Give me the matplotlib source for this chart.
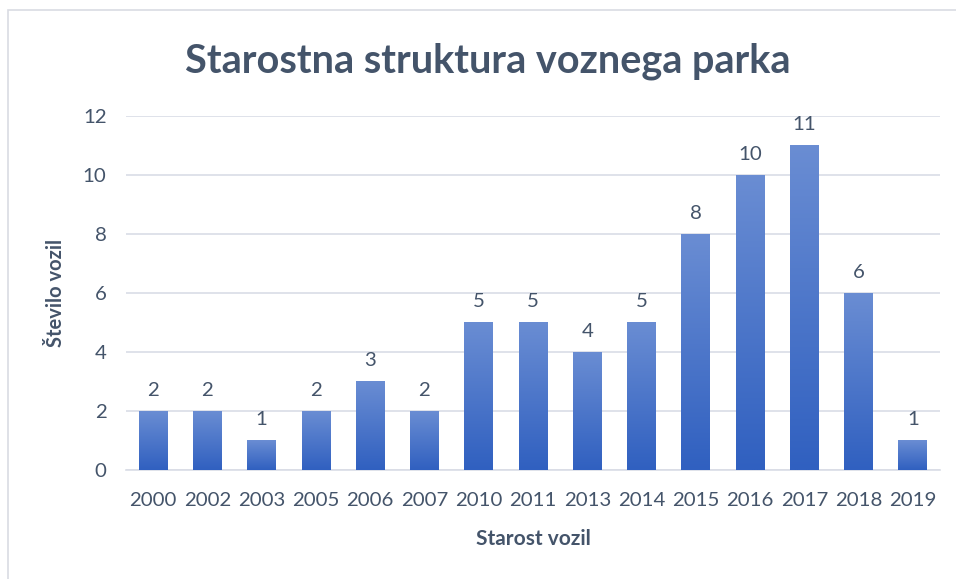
import matplotlib
matplotlib.use("Agg")
import matplotlib.pyplot as plt
import numpy as np
from matplotlib.colors import LinearSegmentedColormap
from matplotlib.patches import Rectangle

years = ["2000", "2002", "2003", "2005", "2006", "2007", "2010", "2011",
         "2013", "2014", "2015", "2016", "2017", "2018", "2019"]
counts = [2, 2, 1, 2, 3, 2, 5, 5, 4, 5, 8, 10, 11, 6, 1]
yticks = [0, 2, 4, 6, 8, 10, 12]

title = "Starostna struktura voznega parka"
xlabel = "Starost vozil"
ylabel = "Število vozil"

plt.rcParams['font.family'] = ['Lato', 'DejaVu Sans']
txt = "#44546a"
grid_c = "#d9dde6"

fig = plt.figure(figsize=(9.56, 5.79), dpi=100)
fig.patches.append(Rectangle((8/956, -0.1), 1.2, 1 - 10/579 + 0.1, transform=fig.transFigure,
                             fill=False, edgecolor="#d9dce3", linewidth=1.2))
ax = fig.add_axes([126/956, 1 - 470/579, (940 - 126)/956, (470 - 116)/579])

x = np.arange(len(years))
bars = ax.bar(x, counts, width=0.53, color="none", zorder=3)
cmap = LinearSegmentedColormap.from_list("g", ["#3060c0", "#6a8dd3"])
grad = np.linspace(0, 1, 256).reshape(-1, 1)
for b, v in zip(bars, counts):
    x0, w, h = b.get_x(), b.get_width(), b.get_height()
    ax.imshow(grad, extent=(x0, x0 + w, 0, h), origin="lower", cmap=cmap,
              aspect="auto", zorder=3, interpolation="bilinear")
    ax.annotate(str(v), (b.get_x() + w / 2, h), xytext=(0, 9), textcoords="offset points",
                ha="center", va="bottom", fontsize=14.7, color=txt)

ax.set_xlim(-0.5, len(years) - 0.5)
ax.set_ylim(0, 12)
ax.set_yticks(yticks)
ax.set_xticks(x)
ax.set_xticklabels(years)
ax.yaxis.grid(True, color=grid_c, linewidth=1.2, zorder=0)
ax.set_axisbelow(True)
for s in ["top", "right", "left"]:
    ax.spines[s].set_visible(False)
ax.spines["bottom"].set_color(grid_c)
ax.spines["bottom"].set_linewidth(1.2)
ax.tick_params(axis="both", length=0, labelsize=14.7, labelcolor=txt)
ax.tick_params(axis="x", pad=16)
ax.tick_params(axis="y", pad=14)

ax.set_xlabel(xlabel, fontsize=15, fontweight="bold", color=txt, labelpad=14)
ax.set_ylabel(ylabel, fontsize=14.5, fontweight="bold", color=txt, labelpad=12)
fig.text(488/956, 1 - 61/579, title, ha="center", va="center", fontsize=28.5,
         fontweight="bold", color=txt)

fig.savefig("out.png", dpi=100)
